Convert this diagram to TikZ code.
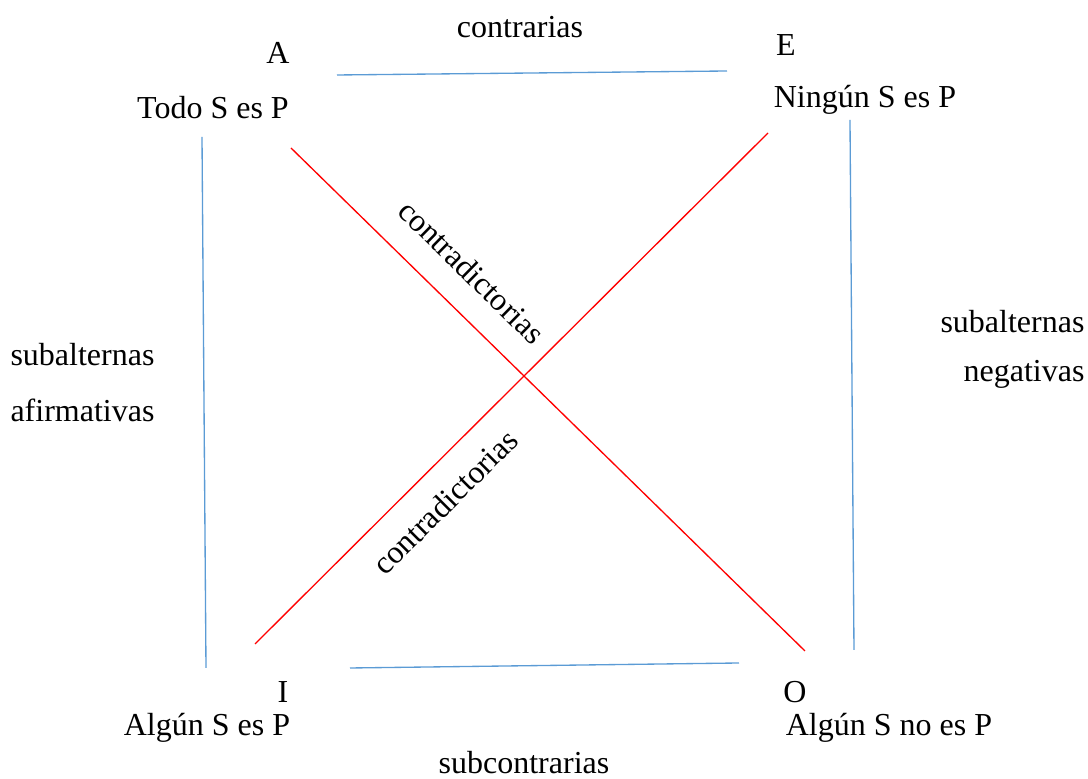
\documentclass[tikz,border=0pt]{standalone}
\usepackage{fontspec}
\setmainfont{Liberation Serif}
\definecolor{lineblue}{RGB}{91,155,213}

\begin{document}
\begin{tikzpicture}[x=0.375pt,y=-0.375pt,
    lbl/.style={font=\fontsize{12}{14}\selectfont, inner sep=0pt},
    relblue/.style={draw=lineblue, line width=0.5pt},
    relred/.style={draw=red, line width=0.5pt}]
  \useasboundingbox (0,0) rectangle (1088,779);
  % corner letters and propositions
  \node[lbl] (A) at (278,53) {A};
  \node[lbl] (E) at (786,45) {E};
  \node[lbl] (I) at (283,692) {I};
  \node[lbl] (O) at (795,692) {O};
  \node[lbl] (todo) at (213,108) {Todo S es P};
  \node[lbl] (ningun) at (865,100) {Ningún S es P};
  \node[lbl] (alguno) at (207,728) {Algún S es P};
  \node[lbl] (algunno) at (889,728) {Algún S no es P};
  % line ends
  \coordinate (ctl) at (337,75);  \coordinate (ctr) at (727,71);
  \coordinate (cbl) at (350,668); \coordinate (cbr) at (739,663);
  \coordinate (sl1) at (202,137); \coordinate (sl2) at (206,668);
  \coordinate (sr1) at (850,120); \coordinate (sr2) at (854,650);
  \coordinate (ao1) at (291,148); \coordinate (ao2) at (805,651);
  \coordinate (ei1) at (768,133); \coordinate (ei2) at (255,644);
  \draw[relblue] (ctl) -- (ctr);   % contrarias
  \draw[relblue] (cbl) -- (cbr);   % subcontrarias
  \draw[relblue] (sl1) -- (sl2);   % subalternas afirmativas
  \draw[relblue] (sr1) -- (sr2);   % subalternas negativas
  \draw[relred] (ao1) -- (ao2);
  \draw[relred] (ei1) -- (ei2);
  % relation names
  \node[lbl] (contrarias) at (520,27) {contrarias};
  \node[lbl] (subcontrarias) at (524,763) {subcontrarias};
  \node[lbl, anchor=west] (subafa) at (10,355) {subalternas};
  \node[lbl, anchor=west] (subafb) at (10,410) {afirmativas};
  \node[lbl, anchor=east] (subnea) at (1085,322) {subalternas};
  \node[lbl, anchor=east] (subneb) at (1085,374) {negativas};
  \node[lbl, rotate=-44.4] (contra1) at (472,272) {contradictorias};
  \node[lbl, rotate=44.9] (contra2) at (445,502) {contradictorias};
\end{tikzpicture}
\end{document}
